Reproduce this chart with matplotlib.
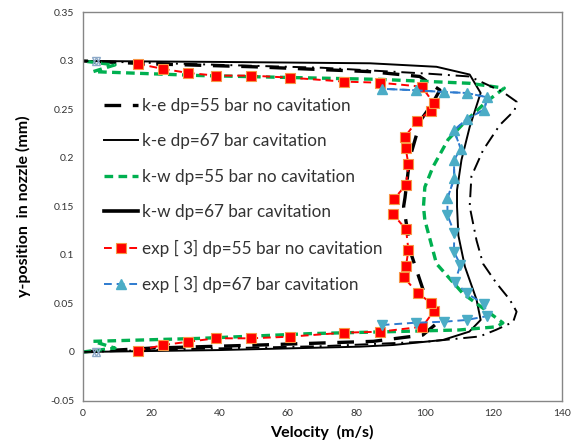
import matplotlib
matplotlib.use("Agg")
import matplotlib.pyplot as plt
import numpy as np

plt.rcParams['font.family'] = ['Lato', 'DejaVu Sans']

# k-e model, dp = 55 bar, no cavitation (bottom wall -> top wall)
ke55_v = [0, 20, 50, 85, 99.4, 104, 102, 99.5, 96.1, 94.2, 93.8, 94.2, 95.6, 98.8, 102, 104.4, 98.5, 84, 50, 20, 0]
ke55_y = [0.000, 0.004, 0.007, 0.011, 0.0175, 0.031, 0.045, 0.064, 0.100, 0.141, 0.150, 0.159,
          0.200, 0.239, 0.255, 0.270, 0.284, 0.289, 0.294, 0.297, 0.300]

# k-e model, dp = 67 bar, cavitation
ke67_v = [0, 40, 81, 90.7, 105.3, 113, 116.3, 115.1, 111.7, 109.8, 109.4, 109.4, 110.7, 113.1,
          116.3, 113.1, 103.4, 84, 40, 0]
ke67_y = [0.000, 0.002, 0.0055, 0.0072, 0.0124, 0.021, 0.033, 0.054, 0.088, 0.120, 0.150, 0.167,
          0.198, 0.232, 0.267, 0.286, 0.294, 0.2976, 0.299, 0.300]

# k-w model, dp = 55 bar, no cavitation
kw55_v = [0, 9.5, 3.1, 34, 67, 90.5, 110, 121, 122.8, 119, 111.2, 103.4, 100, 99.6, 100, 102.4,
          106.8, 112.2, 118, 123.2, 113, 100, 87, 60, 34, 3.1, 9.5, 0]
kw55_y = [0.000, 0.004, 0.011, 0.014, 0.019, 0.021, 0.0227, 0.026, 0.030, 0.040, 0.060, 0.091,
          0.136, 0.150, 0.170, 0.191, 0.219, 0.239, 0.258, 0.272, 0.277, 0.279, 0.281, 0.283,
          0.285, 0.289, 0.296, 0.300]

# k-w model, dp = 67 bar, cavitation
kw67_v = [0, 30, 70, 100.5, 116, 120.9, 125.8, 126.8, 124.8, 120.9, 117, 115.1, 113.1, 113.6,
          117, 121.9, 126.2, 126.8, 122.8, 113.1, 100.5, 70, 30, 0]
kw67_y = [0.000, 0.003, 0.006, 0.0106, 0.016, 0.023, 0.031, 0.0416, 0.054, 0.071, 0.091, 0.115,
          0.150, 0.181, 0.208, 0.234, 0.249, 0.258, 0.268, 0.284, 0.287, 0.293, 0.297, 0.300]

# measurements [3], dp = 55 bar
exp55_v = [16.1, 23.6, 30.9, 39.0, 49.2, 60.6, 76.4, 86.9, 99.3, 102.7, 101.8, 97.9, 93.9, 94.5,
           95.2, 94.5, 90.7, 90.9, 94.5, 95.2, 94.4, 94.2, 97.8, 101.7, 102.6, 99.1, 86.9, 76.4,
           60.6, 49.2, 39.0, 30.9, 23.6, 16.3]
exp55_y = [0.0013, 0.0072, 0.0106, 0.0141, 0.0141, 0.0158, 0.0199, 0.0209, 0.0261, 0.0426, 0.0508,
           0.0605, 0.0770, 0.0887, 0.1052, 0.1265, 0.1420, 0.1574, 0.1722, 0.1935, 0.2100, 0.2220,
           0.2385, 0.2485, 0.2564, 0.2735, 0.2776, 0.2787, 0.2828, 0.2849, 0.2849, 0.2876, 0.2918,
           0.2969]

# measurements [3], dp = 67 bar (lower half / upper half)
exp67_dn_v = [87.4, 97.3, 105.5, 112.2, 118.3, 117.3, 112.2, 108.8, 110.4, 108.5, 108.6, 106.6]
exp67_dn_y = [0.0278, 0.0302, 0.0312, 0.0330, 0.0371, 0.0495, 0.0605, 0.0725, 0.0897, 0.1034,
              0.1230, 0.1412]
exp67_up_v = [106.6, 108.6, 108.5, 110.5, 108.5, 112.2, 117.4, 118.2, 112.2, 105.6, 97.3, 87.4]
exp67_up_y = [0.1585, 0.1791, 0.1979, 0.2095, 0.2284, 0.2400, 0.2499, 0.2626, 0.2670, 0.2680,
              0.2698, 0.2713]

# wall points
wall_v = [4, 4]
wall_y = [0.300, 0.000]

fig = plt.figure(figsize=(5.75, 4.45), dpi=100)
ax = fig.add_axes([0.1435, 0.1, 0.8335, 0.872])

ax.plot(ke55_v, ke55_y, color='black', lw=2.4, dashes=(5, 3.5), label='k-e dp=55 bar no cavitation')
ax.plot(ke67_v, ke67_y, color='black', lw=1.4, label='k-e dp=67 bar cavitation')
ax.plot(kw55_v, kw55_y, color='#00B050', lw=2.4, dashes=(2.6, 1.6), label='k-w dp=55 bar no cavitation')
ax.plot(kw67_v, kw67_y, color='black', lw=1.4, dashes=(7, 3, 1, 3), label='k-w dp=67 bar cavitation')

ax.plot(exp55_v, exp55_y, color='#FF0000', lw=1.4, dashes=(4, 2.5), marker='s', ms=6.5,
        mfc='#FF0000', mec='#F79646', mew=0.8, label='exp [ 3] dp=55 bar no cavitation')

blue_line = '#2E7BCF'
blue_mark = '#4BACC6'
ax.plot(exp67_dn_v + exp67_up_v, exp67_dn_y + exp67_up_y, color=blue_line, lw=1.4, dashes=(4, 2.5))
ax.plot(exp67_dn_v, exp67_dn_y, ls='none', marker='v', ms=7.5, color=blue_mark)
ax.plot(exp67_up_v, exp67_up_y, color=blue_line, lw=1.4, dashes=(4, 2.5), marker='^', ms=7.5,
        mfc=blue_mark, mec=blue_mark, label='exp [ 3] dp=67 bar cavitation')
ax.plot(wall_v, wall_y, ls='none', marker='^', ms=5.5, mfc='none', mec='#8DA9C8', mew=1)
ax.plot(wall_v, wall_y, ls='none', marker='v', ms=5.5, mfc='none', mec='#8DA9C8', mew=1)

ax.set_xlim(0, 140)
ax.set_ylim(-0.05, 0.35)
ax.set_xticks(np.arange(0, 141, 20))
ax.set_yticks(np.arange(-0.05, 0.351, 0.05))
ax.set_yticklabels(['-0.05', '0', '0.05', '0.1', '0.15', '0.2', '0.25', '0.3', '0.35'])
ax.tick_params(length=0, labelsize=7.5, colors='#333333', pad=6)
for s in ax.spines.values():
    s.set_color('#868686')
    s.set_linewidth(1)

ax.set_xlabel('Velocity  (m/s)', fontsize=11.5, fontweight='bold', labelpad=5)
ax.set_ylabel('y-position  in nozzle (mm)', fontsize=11.5, fontweight='bold', labelpad=14)

leg = ax.legend(loc='upper left', bbox_to_anchor=(0.045, 0.78), frameon=False, fontsize=12.3,
                handlelength=2.0, handletextpad=0.2, labelspacing=1.14, borderpad=0, borderaxespad=0)
for t in leg.get_texts():
    t.set_color('#333333')
# the k-w 67 bar key is drawn as a heavy solid stroke
leg.get_lines()[3].set_linestyle('-')
leg.get_lines()[3].set_linewidth(2.6)

fig.savefig('out.png', dpi=100)
